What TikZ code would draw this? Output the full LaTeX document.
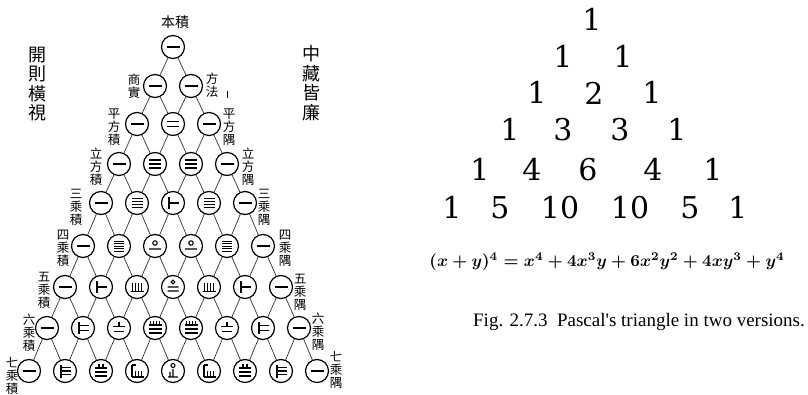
\documentclass[tikz,border=0pt]{standalone}
\usepackage{graphicx}
\usepackage{fontspec}
\newfontfamily\cjk{Noto Sans CJK TC}
\newfontfamily\numfont{DejaVu Serif}
\newfontfamily\capfont{Liberation Serif}
\tikzset{
  rod/.style={circle, draw, line width=1.2pt, minimum size=23pt, inner sep=0pt},
  link/.style={line width=0.7pt, black!80},
  stroke/.style={line width=1.1pt},
  lab/.style={font=\cjk\fontsize{12.5}{13}\selectfont, align=center, inner sep=0pt},
  biglab/.style={font=\cjk\fontsize{18}{19.5}\selectfont, align=center, inner sep=0pt},
  num/.style={font=\numfont\fontsize{30}{30}\selectfont, inner sep=0pt, anchor=base},
}
\newcommand\rodg[1]{%
  \ifnum#1=1 \draw[stroke] (-6.5,0)--(6.5,0);\fi
  \ifnum#1=2 \draw[stroke] (-6,-2.5)--(6,-2.5) (-6,2.5)--(6,2.5);\fi
  \ifnum#1=3 \draw[stroke] (-6,-4)--(6,-4) (-6,0)--(6,0) (-6,4)--(6,4);\fi
  \ifnum#1=4 \draw[stroke] (-5.5,-4.5)--(5.5,-4.5) (-5.5,-1.5)--(5.5,-1.5) (-5.5,1.5)--(5.5,1.5) (-5.5,4.5)--(5.5,4.5);\fi
  \ifnum#1=5 \draw[stroke,line width=0.9pt] (-5,-5)--(5,-5) (-5,-2.5)--(5,-2.5) (-5,0)--(5,0) (-5,2.5)--(5,2.5) (-5,5)--(5,5);\fi
  \ifnum#1=6 \draw[stroke] (-4,-6)--(-4,6) (-4,0)--(5.5,0);\fi
  \ifnum#1=7 \draw[stroke] (-4,-6)--(-4,6) (-4,-2.2)--(5.5,-2.2) (-4,2.2)--(5.5,2.2);\fi
  \ifnum#1=8 \draw[stroke] (-4,-6.5)--(-4,6.5) (-4,-3.5)--(5.5,-3.5) (-4,0)--(5.5,0) (-4,3.5)--(5.5,3.5);\fi
  \ifnum#1=10 \draw[stroke] (0,-3) circle[radius=2.2pt] (-6,3)--(6,3);\fi
  \ifnum#1=15 \draw[stroke] (-6.5,4.5)--(6.5,4.5) (-4.5,-4)--(-4.5,4.5) (-1.5,-4)--(-1.5,4.5) (1.5,-4)--(1.5,4.5) (4.5,-4)--(4.5,4.5);\fi
  \ifnum#1=20 \draw[stroke] (0,-5) circle[radius=1.8pt] (-5.5,0)--(5.5,0) (-5.5,4)--(5.5,4);\fi
  \ifnum#1=21 \draw[stroke] (0,-6.5)--(0,-1.5) (-6,-1.5)--(6,-1.5) (-5,3.5)--(5,3.5);\fi
  \ifnum#1=28 \draw[stroke] (-2,-7)--(-2,-3) (2,-7)--(2,-3) (-6,-3)--(6,-3) (-6,1)--(6,1) (-6,5)--(6,5);\fi
  \ifnum#1=35 \draw[stroke] (-4.5,-7)--(-4.5,-3) (-1.5,-7)--(-1.5,-3) (1.5,-7)--(1.5,-3) (4.5,-7)--(4.5,-3) (-6.5,-3)--(6.5,-3) (-6.5,1)--(6.5,1) (-6.5,5)--(6.5,5);\fi
  \ifnum#1=56 \draw[stroke] (-5,-6)--(-5,6) (-5,-6)--(-1,-6) (-1.5,0)--(-1.5,6) (1.5,0)--(1.5,6) (4.5,0)--(4.5,6) (-5,6)--(6.5,6);\fi
  \ifnum#1=70 \draw[stroke] (0,-5.5) circle[radius=2pt] (0,-2)--(0,6) (-3,1)--(-3,6) (-5,6)--(5,6);\fi
}
\newcommand\putrow[2]{%
  \foreach \v [count=\k from 0] in {#2} {%
    \begin{scope}[shift={(n-#1-\k.center)}]\rodg{\v}\end{scope}}}
\begin{document}
\begin{tikzpicture}[x=1pt,y=-1pt]
\useasboundingbox (0,0) rectangle (808,395);
% Chinese triangle
\foreach \r in {0,...,8} {
  \pgfmathsetmacro\yy{{47,86,124,164,203,246,287,328,371}[\r]}
  \foreach \k in {0,...,\r} {
    \node[rod] (n-\r-\k) at ({173+(\k-\r/2)*36}, \yy) {};
  }
}
\foreach \r in {0,...,7} {
  \foreach \k in {0,...,\r} {
    \pgfmathtruncatemacro\rr{\r+1}
    \pgfmathtruncatemacro\kk{\k+1}
    \draw[link] (n-\r-\k) -- (n-\rr-\k);
    \draw[link] (n-\r-\k) -- (n-\rr-\kk);
  }
}
\putrow{0}{1}
\putrow{1}{1,1}
\putrow{2}{1,2,1}
\putrow{3}{1,3,3,1}
\putrow{4}{1,4,6,4,1}
\putrow{5}{1,5,10,10,5,1}
\putrow{6}{1,6,15,20,15,6,1}
\putrow{7}{1,7,21,35,35,21,7,1}
\putrow{8}{1,8,28,56,70,56,28,8,1}
% labels
\node[lab, font=\cjk\fontsize{14}{14}\selectfont] (top) at (175,22) {本積};
\node[biglab] (lcol) at (37,84) {開\\則\\橫\\視};
\node[biglab] (rcol) at (311,83) {中\\藏\\皆\\廉};
\node[lab] (l1) at (134,86) {商\\實};
\node[lab] (r1) at (212,85) {方\\法};
\node[lab] (l2) at (114,127) {平\\方\\積};
\node[lab] (r2) at (229,127) {平\\方\\隅};
\draw[line width=0.6pt] (227.5,91) -- (227.5,98);
\node[lab] (l3) at (96,167) {立\\方\\積};
\node[lab] (r3) at (248,167) {立\\方\\隅};
\node[lab] (l4) at (76,207) {三\\乘\\積};
\node[lab] (r4) at (264,207) {三\\乘\\隅};
\node[lab] (l5) at (63,248) {四\\乘\\積};
\node[lab] (r5) at (285,248) {四\\乘\\隅};
\node[lab] (l6) at (44,290) {五\\乘\\積};
\node[lab] (r6) at (300,292) {五\\乘\\隅};
\node[lab] (l7) at (29,333) {六\\乘\\積};
\node[lab] (r7) at (318,332) {六\\乘\\隅};
\node[lab] (l8) at (12,376) {七\\乘\\積};
\node[lab] (r8) at (336,370) {七\\乘\\隅};
% Pascal's triangle (baselines)
\node[num] (p-0-0) at (592,31) {1};
\node[num] (p-1-0) at (563,68) {1};
\node[num] (p-1-1) at (623,68) {1};
\node[num] (p-2-0) at (537,104) {1};
\node[num] (p-2-1) at (594,105) {2};
\node[num] (p-2-2) at (652,104) {1};
\node[num] (p-3-0) at (510,141) {1};
\node[num] (p-3-1) at (563,141) {3};
\node[num] (p-3-2) at (620,141) {3};
\node[num] (p-3-3) at (677,141) {1};
\node[num] (p-4-0) at (480,181) {1};
\node[num] (p-4-1) at (532,181) {4};
\node[num] (p-4-2) at (588,181) {6};
\node[num] (p-4-3) at (653,181) {4};
\node[num] (p-4-4) at (713,181) {1};
\node[num] (p-5-0) at (452,219) {1};
\node[num] (p-5-1) at (500,219) {5};
\node[num] (p-5-2) at (560,219) {10};
\node[num] (p-5-3) at (630,219) {10};
\node[num] (p-5-4) at (690,219) {5};
\node[num] (p-5-5) at (738,219) {1};
\node[inner sep=0pt] (eq) at (607,262) {\resizebox{355pt}{!}{\boldmath$(x+y)^4=x^4+4x^3y+6x^2y^2+4xy^3+y^4$}};
\node[inner sep=0pt, font=\capfont\fontsize{19}{19}\selectfont] (cap) at (639,322) {Fig. 2.7.3\ \ Pascal's triangle in two versions.};
\end{tikzpicture}
\end{document}
